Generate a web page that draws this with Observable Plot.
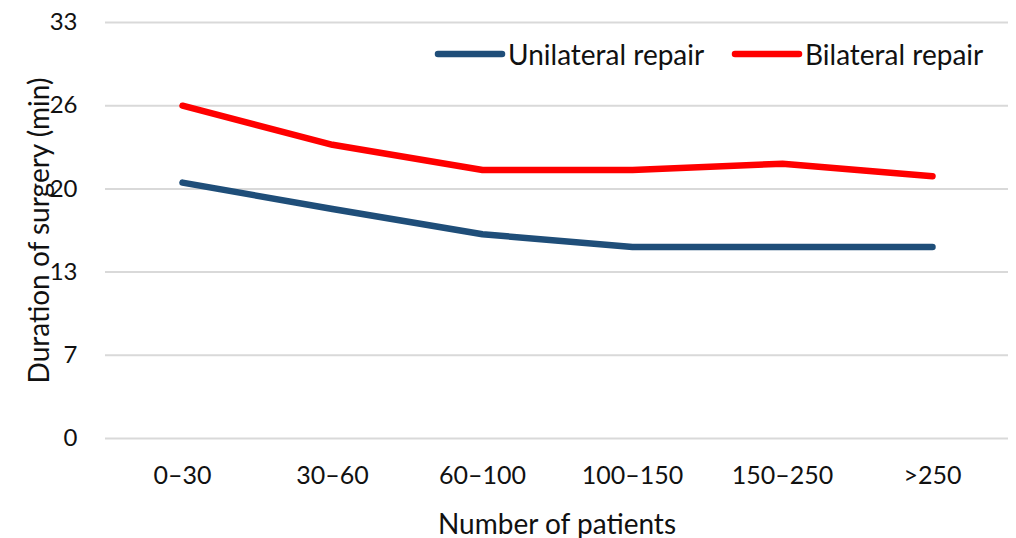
<!DOCTYPE html>
<html>
<head>
<meta charset="utf-8">
<script src="https://cdn.jsdelivr.net/npm/d3@7"></script>
<script src="https://cdn.jsdelivr.net/npm/@observablehq/plot@0.6"></script>
<style>
  html, body { margin: 0; padding: 0; background: #fff; }
  #wrap { position: relative; width: 1016px; height: 538px; font-family: Lato, "Open Sans", sans-serif; }
  .item { position: absolute; top: 37px; display: flex; align-items: center; font-size: 28px; color: #111; white-space: nowrap; }
  .item svg { display: block; }
</style>
</head>
<body>
<div id="wrap">
  <div id="chart"></div>
</div>
<script>
const categories = ["0–30", "30–60", "60–100", "100–150", "150–250", ">250"];
const unilateral = [20.3, 18.2, 16.2, 15.2, 15.2, 15.2];
const bilateral = [26.4, 23.3, 21.3, 21.3, 21.8, 20.8];
const yTicks = [0, 6.6, 13.2, 19.8, 26.4, 33];
const seriesNames = ["Unilateral repair", "Bilateral repair"];
const seriesColors = ["#1f4e79", "#ff0000"];

const data = [];
categories.forEach((c, i) => {
  data.push({cat: c, value: unilateral[i], series: seriesNames[0]});
  data.push({cat: c, value: bilateral[i], series: seriesNames[1]});
});

const chart = Plot.plot({
  width: 1016,
  height: 538,
  marginLeft: 105,
  marginRight: 8,
  marginTop: 22,
  marginBottom: 100,
  style: {fontFamily: "Lato, 'Open Sans', sans-serif", fontSize: "24px", color: "#111", background: "#fff"},
  x: {type: "point", domain: categories, padding: 0.5},
  y: {domain: [0, 33]},
  color: {domain: seriesNames, range: seriesColors},
  marks: [
    Plot.gridY(yTicks, {stroke: "#d9d9d9", strokeOpacity: 1, strokeWidth: 2}),
    Plot.axisY({ticks: yTicks, tickSize: 0, tickPadding: 28, tickFormat: d => Math.round(d), fontSize: 24, label: null}),
    Plot.axisY({ticks: [], tickSize: 0, fontSize: 28,
      label: "Duration of surgery (min)", labelAnchor: "center", labelArrow: "none", labelOffset: 76}),
    Plot.axisX({tickSize: 0, tickPadding: 28, fontSize: 25, label: null}),
    Plot.axisX({ticks: [], tickSize: 0, fontSize: 28, label: "Number of patients", labelAnchor: "center", labelArrow: "none", labelOffset: 95}),
    Plot.line(data, {x: "cat", y: "value", z: "series", stroke: "series", strokeWidth: 6.5, strokeLinecap: "round", strokeLinejoin: "round"})
  ]
});
document.getElementById("chart").appendChild(chart);

const wrap = document.getElementById("wrap");
const legendLeft = [434, 731];
seriesNames.forEach((name, i) => {
  const item = document.createElement("div");
  item.className = "item";
  item.style.left = legendLeft[i] + "px";
  item.innerHTML = `<svg width="74" height="10"><line x1="4" y1="5" x2="68" y2="5" stroke="${seriesColors[i]}" stroke-width="6.5" stroke-linecap="round"/></svg><span>${name}</span>`;
  wrap.appendChild(item);
});
</script>
</body>
</html>
